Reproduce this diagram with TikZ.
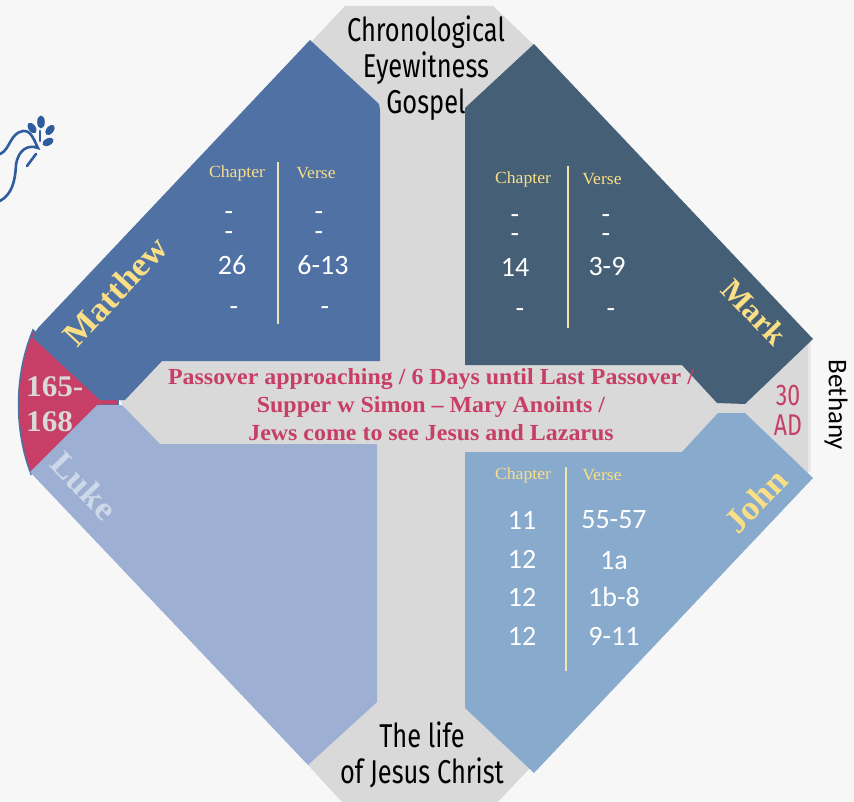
\documentclass[tikz,border=0pt]{standalone}
\usepackage{fontspec}
\setmainfont{Liberation Serif}
\newfontfamily\numfont{Carlito}
\newfontfamily\condfont[FakeStretch=0.77]{Fira Sans}
\newfontfamily\wideserif[FakeStretch=1.04]{Liberation Serif}
\definecolor{bgc}{HTML}{F7F7F7}
\definecolor{grayc}{HTML}{D9D9D9}
\definecolor{edgec}{HTML}{E9E9E9}
\definecolor{mattc}{HTML}{4F71A4}
\definecolor{markc}{HTML}{445F76}
\definecolor{lukec}{HTML}{9DB0D4}
\definecolor{johnc}{HTML}{87AACD}
\definecolor{redc}{HTML}{C73E66}
\definecolor{goldc}{HTML}{FADF85}
\definecolor{lukelab}{HTML}{CDD8E8}
\definecolor{dovec}{HTML}{2F5C9F}
\definecolor{linec}{HTML}{F0E4B0}
\tikzset{
  hd/.style={text=goldc,font=\wideserif\fontsize{17}{17}\selectfont,inner sep=0pt},
  num/.style={text=white,font=\numfont\fontsize{28}{28}\selectfont,inner sep=0pt},
  gosp/.style={text=goldc,font=\wideserif\bfseries\fontsize{34}{34}\selectfont,inner sep=0pt},
  blk/.style={text=black,font=\condfont\fontsize{33}{36}\selectfont,inner sep=0pt,align=center},
  divl/.style={draw=linec,line width=1.6pt},
  dovel/.style={draw=dovec,line width=2.6pt,line cap=round}
}
\begin{document}
\begin{tikzpicture}[x=1pt,y=-1pt]
\useasboundingbox (0,0) rectangle (854,802);
\fill[bgc] (0,0) rectangle (854,802);
\fill[edgec] (800,340) rectangle (811,472);
% grey cross and frame
\fill[grayc] (345,6) -- (493,6) -- (534,45) -- (808,335) -- (808,472) -- (529,769) -- (498,802) -- (342,802) -- (308,765) -- (120,400) -- (313,40) -- cycle;
% red segment
\fill[redc,draw=mattc,line width=1.5pt] (33,330) .. controls (14,375) and (14,430) .. (31,474) -- (100,405) -- (118,405) -- (118,399) -- (100,399) -- cycle;
% quadrants
\fill[mattc] (310,40) -- (379,104) -- (380,110) -- (380,361) -- (162,361) -- (125,400) -- (100,400) -- (32,337) -- (38,328) -- cycle;
\fill[markc] (534,44) -- (813,339) -- (745,404) -- (717,403) -- (682,365) -- (465,365) -- (465,108) -- cycle;
\fill[lukec] (97,405) -- (122,405) -- (160,444) -- (377,444) -- (377,702) -- (308,765) -- (30,472) -- cycle;
\fill[johnc] (718,413) -- (745,413) -- (813,478) -- (534,773) -- (465,708) -- (465,452) -- (682,452) -- cycle;
% dove
\draw[dovel] (0,154) .. controls (10,150) and (10,133) .. (23,131) .. controls (31,130) and (34,140) .. (38,148) .. controls (28,144) and (18,150) .. (16,165) .. controls (15,182) and (12,194) .. (0,201);
\draw[dovel] (36,154) -- (27,166);
\draw[dovel] (40,131) -- (40,141);
\fill[dovec] (41,122) ellipse [x radius=3.8pt,y radius=6.5pt];
\fill[dovec,rotate around={35:(32,128)}] (32,128) ellipse [x radius=3.6pt,y radius=6pt];
\fill[dovec,rotate around={-40:(50,130)}] (50,130) ellipse [x radius=3.6pt,y radius=6pt];
\fill[dovec,rotate around={-62:(48,142)}] (48,142) ellipse [x radius=3.6pt,y radius=6pt];
% matthew
\node[gosp,rotate=47] (matthew) at (115,291) {Matthew};
\node[hd] (mch) at (237,173) {Chapter};
\node[hd] (mvs) at (316,173) {Verse};
\draw[divl] (278,162) -- (278,324);
\node[num] (m1) at (229,216) {-};
\node[num] (m2) at (229,236) {-};
\node[num] (m3) at (232,265) {26};
\node[num] (m4) at (234,311) {-};
\node[num] (m5) at (319,216) {-};
\node[num] (m6) at (319,236) {-};
\node[num] (m7) at (323,265) {6-13};
\node[num] (m8) at (325,311) {-};
% mark
\node[gosp,font=\wideserif\bfseries\fontsize{31}{31}\selectfont,rotate=-46] (mark) at (754,312) {Mark};
\node[hd] (kch) at (523,179) {Chapter};
\node[hd] (kvs) at (602,179) {Verse};
\draw[divl] (568,166) -- (568,328);
\node[num] (k1) at (515,219) {-};
\node[num] (k2) at (515,238) {-};
\node[num] (k3) at (515,267) {14};
\node[num] (k4) at (520,313) {-};
\node[num] (k5) at (606,219) {-};
\node[num] (k6) at (606,238) {-};
\node[num] (k7) at (607,267) {3-9};
\node[num] (k8) at (611,313) {-};
% john
\node[gosp,rotate=46] (john) at (756,501) {John};
\node[hd] (jch) at (523,475) {Chapter};
\node[hd] (jvs) at (602,475) {Verse};
\draw[divl] (566,467) -- (566,671);
\node[num] (j1) at (522,520) {11};
\node[num] (j2) at (522,559) {12};
\node[num] (j3) at (522,597) {12};
\node[num] (j4) at (522,636) {12};
\node[num] (j5) at (614,520) {55-57};
\node[num] (j6) at (614,561) {1a};
\node[num] (j7) at (614,597) {1b-8};
\node[num] (j8) at (614,636) {9-11};
% luke
\node[gosp,text=lukelab,rotate=-46] (luke) at (84,486) {Luke};
% centre text
\node[text=redc,font=\wideserif\bfseries\fontsize{23}{28}\selectfont,inner sep=0pt,align=center] (pass) at (431,405) {Passover approaching / 6 Days until Last Passover /\\Supper w Simon – Mary Anoints /\\Jews come to see Jesus and Lazarus};
\node[text=grayc,font=\wideserif\bfseries\fontsize{30}{35}\selectfont,inner sep=0pt,align=left,anchor=west] (yrs) at (26,404) {165-\\168};
\node[text=redc,font=\condfont\fontsize{30}{30}\selectfont,inner sep=0pt,align=center] (ad) at (788,410) {30\\AD};
\node[text=black,font=\numfont\fontsize{27}{27}\selectfont,inner sep=0pt,rotate=-90] (beth) at (836,405) {Bethany};
\node[blk] (chron) at (426,68) {Chronological\\Eyewitness\\Gospel};
\node[blk] (life) at (422,755) {The life\\of Jesus Christ};
\end{tikzpicture}
\end{document}
